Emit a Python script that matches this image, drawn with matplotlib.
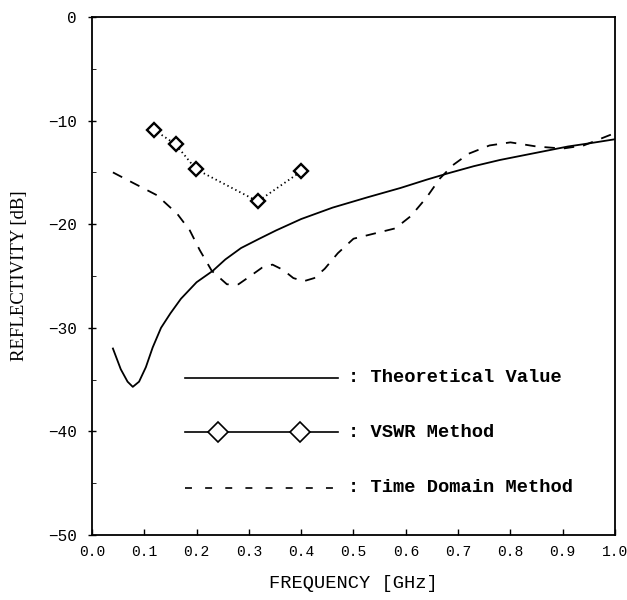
import matplotlib
matplotlib.use("Agg")
import matplotlib.pyplot as plt
from matplotlib.ticker import MultipleLocator

# theoretical reflectivity
theo_f = [0.040, 0.055, 0.068, 0.078, 0.090, 0.103, 0.116, 0.132, 0.150, 0.170,
          0.200, 0.231, 0.255, 0.285, 0.320, 0.352, 0.400, 0.460, 0.527, 0.590,
          0.640, 0.680, 0.730, 0.780, 0.850, 0.910, 0.950, 1.000]
theo_db = [-32.0, -34.0, -35.2, -35.7, -35.2, -33.8, -31.9, -30.0, -28.6, -27.2,
           -25.6, -24.5, -23.4, -22.3, -21.4, -20.6, -19.5, -18.4, -17.4, -16.5,
           -15.7, -15.1, -14.4, -13.8, -13.1, -12.5, -12.2, -11.8]

# VSWR method measurements
vswr_f = [0.119, 0.160, 0.199, 0.317, 0.400]
vswr_db = [-10.9, -12.3, -14.7, -17.8, -14.9]

# time domain method
td_f = [0.040, 0.078, 0.124, 0.163, 0.187, 0.206, 0.229, 0.258, 0.280, 0.300,
        0.325, 0.345, 0.365, 0.385, 0.405, 0.425, 0.445, 0.470, 0.500, 0.540,
        0.580, 0.610, 0.640, 0.665, 0.690, 0.720, 0.760, 0.800, 0.850, 0.900,
        0.940, 1.000]
td_db = [-15.0, -16.0, -17.2, -19.0, -20.6, -22.5, -24.5, -25.8, -25.8, -25.1,
         -24.2, -23.9, -24.4, -25.2, -25.5, -25.2, -24.3, -22.8, -21.4, -20.9,
         -20.4, -19.2, -17.4, -15.6, -14.3, -13.2, -12.4, -12.1, -12.5, -12.7,
         -12.4, -11.2]

LEGEND = [": Theoretical Value", ": VSWR Method", ": Time Domain Method"]

plt.rcParams["lines.scale_dashes"] = False
MONO = "Liberation Mono"

fig = plt.figure(figsize=(6.27, 6.0), dpi=100)
ax = fig.add_axes([92 / 627, 65 / 600, 523 / 627, 518 / 600])

ax.plot(theo_f, theo_db, color="black", lw=1.3)
ax.plot(td_f, td_db, color="black", lw=1.3, dashes=(7.5, 6.5))
ax.plot(vswr_f, vswr_db, color="black", lw=1.3, ls=(0, (1, 2.2)),
        marker="D", ms=7, mfc="white", mec="black", mew=1.7)

# hand-drawn legend inside the axes
tr = ax.transAxes
ys = [0.304, 0.198, 0.091]
ax.plot([0.178, 0.470], [ys[0]] * 2, color="black", lw=1.2, transform=tr)
ax.plot([0.178, 0.470], [ys[1]] * 2, color="black", lw=1.2, transform=tr)
ax.plot([0.241, 0.398], [ys[1]] * 2, ls="none", marker="D", ms=10.5,
        mfc="white", mec="black", mew=1.2, transform=tr)
ax.plot([0.178, 0.470], [ys[2]] * 2, color="black", lw=1.2, dashes=(5, 9.5),
        transform=tr)
for y, lab in zip(ys, LEGEND):
    ax.text(0.490, y, lab, transform=tr, fontsize=13.5, fontfamily=MONO,
            fontweight="bold", va="center", ha="left")

ax.set_xlim(0, 1.0)
ax.set_ylim(-50, 0)
ax.yaxis.set_major_locator(MultipleLocator(10))
ax.yaxis.set_minor_locator(MultipleLocator(5))
ax.set_xticks([i / 10 for i in range(11)])
ax.set_xticklabels([f"{i / 10:.1f}" for i in range(11)])
ax.tick_params(axis="both", direction="in", length=4, width=1,
               top=False, right=False)
ax.tick_params(axis="x", labelsize=10.5, pad=7)
ax.tick_params(axis="y", which="major", direction="inout", length=6, pad=8,
               labelsize=11.5)
ax.tick_params(axis="y", which="minor", direction="in", length=3)
for lab in ax.get_xticklabels() + ax.get_yticklabels():
    lab.set_fontfamily(MONO)
for s in ax.spines.values():
    s.set_linewidth(1.3)

ax.set_xlabel("FREQUENCY [GHz]", fontsize=13.5, fontfamily=MONO, labelpad=12)
ax.set_ylabel("REFLECTIVITY [dB]", fontsize=13.5, fontfamily="Liberation Serif",
              labelpad=14)

fig.savefig("out.png", dpi=100, facecolor="white")
